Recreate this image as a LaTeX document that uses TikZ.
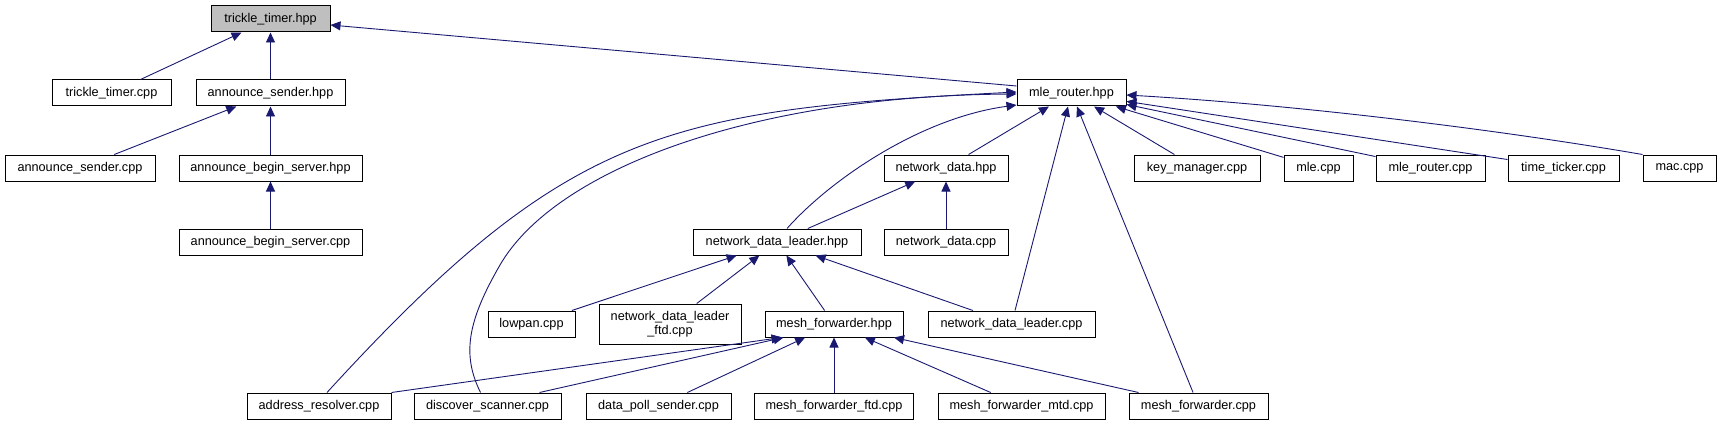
\documentclass[tikz,border=0pt]{standalone}
\usepackage{fontspec}
\setmainfont{Liberation Sans}
\usetikzlibrary{arrows.meta,calc}
\definecolor{edgeblue}{RGB}{25,25,112}
\definecolor{hdrgray}{RGB}{191,191,191}
\begin{document}
\begin{tikzpicture}[x=1pt,y=-1pt,
  box/.style={draw=black,line width=1pt,fill=white,inner sep=0pt,minimum height=26pt,align=center,font=\fontsize{12.7}{14}\selectfont},
  edge/.style={draw=edgeblue,line width=0.9pt,-{Triangle[length=10pt,width=9pt]}}]
\useasboundingbox (0,0) rectangle (1721,425);
% nodes
\node[box,minimum width=119pt,fill=hdrgray] (tth) at (270.5,19) {trickle\_timer.hpp};
\node[box,minimum width=119pt] (ttc) at (111.5,93) {trickle\_timer.cpp};
\node[box,minimum width=149pt] (ash) at (270.5,93) {announce\_sender.hpp};
\node[box,minimum width=150pt] (asc) at (80,168) {announce\_sender.cpp};
\node[box,minimum width=183pt] (absh) at (270.5,168) {announce\_begin\_server.hpp};
\node[box,minimum width=183pt] (absc) at (270.5,242) {announce\_begin\_server.cpp};
\node[box,minimum width=109pt] (mrh) at (1071.5,93) {mle\_router.hpp};
\node[box,minimum width=124pt] (ndh) at (946,168) {network\_data.hpp};
\node[box,minimum width=124pt] (ndc) at (946,242) {network\_data.cpp};
\node[box,minimum width=126pt] (kmc) at (1197,168) {key\_manager.cpp};
\node[box,minimum width=69pt] (mlec) at (1318.5,168) {mle.cpp};
\node[box,minimum width=109pt] (mrc) at (1430.5,168) {mle\_router.cpp};
\node[box,minimum width=111pt] (ttk) at (1563.5,168) {time\_ticker.cpp};
\node[box,minimum width=73pt] (macc) at (1679.5,168) {mac.cpp};
\node[box,minimum width=168pt] (ndlh) at (777,242) {network\_data\_leader.hpp};
\node[box,minimum width=87pt] (lowpan) at (531.5,324) {lowpan.cpp};
\node[box,minimum width=142pt,minimum height=40pt] (ndlftd) at (670,324) {network\_data\_leader\\\_ftd.cpp};
\node[box,minimum width=138pt] (mfh) at (834,324) {mesh\_forwarder.hpp};
\node[box,minimum width=167pt] (ndlc) at (1011.5,324) {network\_data\_leader.cpp};
\node[box,minimum width=144pt] (arc) at (319,406) {address\_resolver.cpp};
\node[box,minimum width=147pt] (dsc) at (487.5,406) {discover\_scanner.cpp};
\node[box,minimum width=145pt] (dps) at (658.5,406) {data\_poll\_sender.cpp};
\node[box,minimum width=159pt] (mfftd) at (834,406) {mesh\_forwarder\_ftd.cpp};
\node[box,minimum width=167pt] (mfmtd) at (1021.5,406) {mesh\_forwarder\_mtd.cpp};
\node[box,minimum width=139pt] (mfc) at (1198.5,406) {mesh\_forwarder.cpp};
% edges
\draw[edge] (ttc) -- (tth);
\draw[edge] (ash) -- (tth);
\draw[edge] ($(mrh.west)+(0,-7)$) -- ($(tth.east)+(0,6)$);
\draw[edge] (asc) -- (ash);
\draw[edge] (absh) -- (ash);
\draw[edge] (absc) -- (absh);
\draw[edge] ($(arc.north)+(8,0)$) .. controls (568,129) and (667,110) .. ($(mrh.west)+(0,-1)$);
\draw[edge] ($(dsc.north)+(-7,0)$) .. controls (462,355) and (467,322) .. (500,265) .. controls (555,170) and (750,96) .. ($(mrh.west)+(0,1)$);
\draw[edge] ($(ndlh.north)+(10,0)$) .. controls (830,180) and (920,118) .. ($(mrh.west)+(0,12)$);
\draw[edge] (ndh) -- (mrh);
\draw[edge] (ndlc) -- (mrh);
\draw[edge] (mfc) -- (mrh);
\draw[edge] (kmc) -- (mrh);
\draw[edge] (mlec) -- (mrh);
\draw[edge] (mrc) -- (mrh);
\draw[edge] (ttk) -- (mrh);
\draw[edge] (macc.north west) .. controls (1500,130) and (1300,105) .. ($(mrh.east)+(0,2)$);
\draw[edge] (ndlh) -- (ndh);
\draw[edge] (ndc) -- (ndh);
\draw[edge] (lowpan) -- (ndlh);
\draw[edge] (ndlftd) -- (ndlh);
\draw[edge] (mfh) -- (ndlh);
\draw[edge] (ndlc) -- (ndlh);
\draw[edge] (arc.north east) -- ($(mfh.south west)+(17,0)$);
\draw[edge] ($(dsc.north)+(52,0)$) -- ($(mfh.south west)+(19,0)$);
\draw[edge] (dps) -- (mfh);
\draw[edge] (mfftd) -- (mfh);
\draw[edge] (mfmtd) -- (mfh);
\draw[edge] (mfc) -- (mfh);
\end{tikzpicture}
\end{document}
